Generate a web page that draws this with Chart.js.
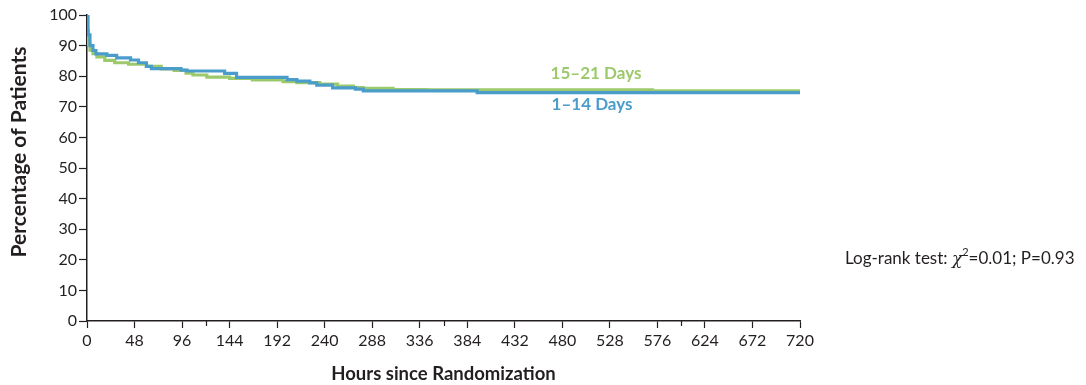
<!DOCTYPE html>
<html>
<head>
<meta charset="utf-8">
<script src="https://cdn.jsdelivr.net/npm/chart.js@4/dist/chart.umd.min.js"></script>
<style>
  html, body { margin: 0; padding: 0; background: #fff; }
  #wrap { width: 1086px; height: 385px; }
</style>
</head>
<body>
<div id="wrap"><canvas id="km" width="1086" height="385"></canvas></div>
<script>
// Kaplan-Meier style curves (hour of drop, % remaining)
const shortHours = [0, 1, 3, 6, 9, 20, 30, 44, 52, 60, 65, 95, 101, 139, 151, 202, 212, 225, 232, 248, 271, 279, 394, 720];
const shortPct   = [100, 93.5, 90.0, 88.4, 87.3, 86.8, 86.0, 85.3, 84.4, 83.2, 82.5, 82.0, 81.7, 80.9, 79.6, 78.9, 78.4, 77.8, 77.1, 76.2, 75.8, 75.2, 74.6, 74.6];

const longHours = [0, 0.5, 1.5, 3, 6, 10, 18, 28, 42, 60, 75, 88, 100, 107, 121, 144, 167, 198, 212, 235, 253, 269, 279, 309, 343, 571, 720];
const longPct   = [100, 95, 90.5, 88.5, 87.4, 86.3, 85.2, 84.4, 83.9, 83.2, 82.4, 81.9, 81.0, 80.4, 79.7, 79.3, 78.8, 78.2, 77.9, 77.4, 76.8, 76.3, 76.0, 75.6, 75.5, 75.2, 75.2];

const seriesNames = ['1\u201314 Days', '15\u201321 Days'];
const xTicks = [0, 48, 96, 144, 192, 240, 288, 336, 384, 432, 480, 528, 576, 624, 672, 720];
const xMinorTicks = [120, 360, 600];
const yTicks = [0, 10, 20, 30, 40, 50, 60, 70, 80, 90, 100];

const BLUE = '#4a9dcb';
const GREEN = '#9cc96b';
const INK = '#231f20';
const FONT = 'Lato, "Noto Sans", sans-serif';

const toPoints = (hours, pct) => hours.map((h, i) => ({ x: h, y: pct[i] }));

// extra drawing: minor x ticks, y title, curve labels, log-rank note
const extras = {
  id: 'extras',
  afterDraw(chart) {
    const { ctx, scales: { x, y } } = chart;
    ctx.save();
    ctx.strokeStyle = INK;
    ctx.lineWidth = 1.2;
    xMinorTicks.forEach(v => {
      const px = Math.round(x.getPixelForValue(v)) + 0.5;
      ctx.beginPath();
      ctx.moveTo(px, y.bottom);
      ctx.lineTo(px, y.bottom + 5);
      ctx.stroke();
    });

    // y axis title
    ctx.save();
    ctx.translate(19, 152);
    ctx.rotate(-Math.PI / 2);
    ctx.font = 'bold 21px ' + FONT;
    ctx.fillStyle = INK;
    ctx.textAlign = 'center';
    ctx.textBaseline = 'middle';
    ctx.fillText('Percentage of Patients', 0, 0);
    ctx.restore();

    ctx.font = 'bold 17px ' + FONT;
    ctx.textAlign = 'center';
    ctx.textBaseline = 'middle';
    ctx.fillStyle = GREEN;
    ctx.fillText(seriesNames[1], x.getPixelForValue(514), y.getPixelForValue(81.0));
    ctx.fillStyle = BLUE;
    ctx.fillText(seriesNames[0], x.getPixelForValue(510), y.getPixelForValue(70.6));

    // Log-rank test: chi^2=0.01; P=0.93
    ctx.fillStyle = INK;
    ctx.textAlign = 'left';
    ctx.textBaseline = 'alphabetic';
    let tx = 845;
    const ty = 264;
    const part = (txt, font, dy = 0) => {
      ctx.font = font;
      ctx.fillText(txt, tx, ty + dy);
      tx += ctx.measureText(txt).width;
    };
    part('Log-rank test: ', '17px ' + FONT);
    part('\u03c7', 'italic 17px "DejaVu Serif", serif');
    part('2', '11px ' + FONT, -8);
    part('=0.01; P=0.93', '17px ' + FONT);
    ctx.restore();
  }
};

new Chart(document.getElementById('km'), {
  type: 'line',
  data: {
    datasets: [
      {
        label: seriesNames[0],
        data: toPoints(shortHours, shortPct),
        borderColor: BLUE,
        borderWidth: 3.2,
        stepped: true,
        pointRadius: 0,
        fill: false
      },
      {
        label: seriesNames[1],
        data: toPoints(longHours, longPct),
        borderColor: GREEN,
        borderWidth: 3.2,
        stepped: true,
        pointRadius: 0,
        fill: false
      }
    ]
  },
  options: {
    responsive: false,
    animation: false,
    events: [],
    layout: { padding: { top: 15, right: 286, left: 0, bottom: 0 } },
    plugins: { legend: { display: false }, tooltip: { enabled: false } },
    scales: {
      x: {
        type: 'linear',
        min: 0,
        max: 720,
        afterBuildTicks: (scale) => { scale.ticks = xTicks.map(v => ({ value: v })); },
        afterFit: (scale) => { scale.height = 64; },
        border: { color: INK, width: 1.5 },
        grid: { drawOnChartArea: false, tickLength: 7, color: INK, tickWidth: 1.2 },
        ticks: { color: INK, font: { family: FONT, size: 16 }, padding: 3, maxRotation: 0, autoSkip: false },
        title: {
          display: true,
          text: 'Hours since Randomization',
          color: INK,
          font: { family: FONT, size: 18.5, weight: 'bold' },
          padding: { top: 14, bottom: 0 }
        }
      },
      y: {
        min: 0,
        max: 100,
        afterBuildTicks: (scale) => { scale.ticks = yTicks.map(v => ({ value: v })); },
        afterFit: (scale) => { scale.width = 87; },
        border: { color: INK, width: 1.5 },
        grid: { drawOnChartArea: false, tickLength: 8, color: INK, tickWidth: 1.2 },
        ticks: { color: INK, font: { family: FONT, size: 16 }, padding: 2 }
      }
    }
  },
  plugins: [extras]
});
</script>
</body>
</html>
